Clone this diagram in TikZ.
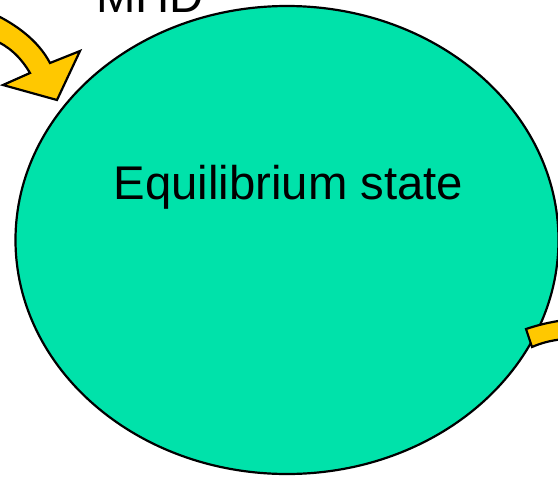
\documentclass[tikz,border=0pt]{standalone}
\usepackage{fontspec}
\setmainfont{Liberation Sans}
\usetikzlibrary{shapes.geometric}
\definecolor{eqgreen}{RGB}{0,226,170}
\definecolor{arrowyellow}{RGB}{255,200,0}
\tikzset{
  bigtext/.style={font=\fontsize{47.3}{56}\selectfont, inner sep=0pt},
  blockarrow/.style={fill=arrowyellow, draw=black, line width=2.2pt, line join=miter},
}
\begin{document}
\begin{tikzpicture}[x=1pt,y=-1pt]
\useasboundingbox (0,0) rectangle (558,483);
\begin{scope}
\clip (0,0) rectangle (558,483);
% ellipse
\node[ellipse, draw=black, fill=eqgreen, line width=2.2pt, minimum width=543pt, minimum height=468pt, inner sep=0pt] (eq) at (287,240) {};
\node[bigtext, anchor=base] (eqlabel) at (288.5,199) {Equilibrium state};
\node[bigtext, anchor=base] (mhd) at (150,12) {MHD};
% top-left curved arrow
\draw[blockarrow] (-6,14) .. controls (15,24) and (38,40) .. (50,63)
  -- (80,51) -- (57,100) -- (3,85) -- (30,73)
  .. controls (20,56) and (8,46) .. (-6,40) -- cycle;
% right arrow tail
\draw[blockarrow] (526,329) .. controls (538,325) and (550,322) .. (565,320)
  -- (565,339) .. controls (552,340) and (541,343) .. (532,347) -- cycle;
\end{scope}
\end{tikzpicture}
\end{document}
